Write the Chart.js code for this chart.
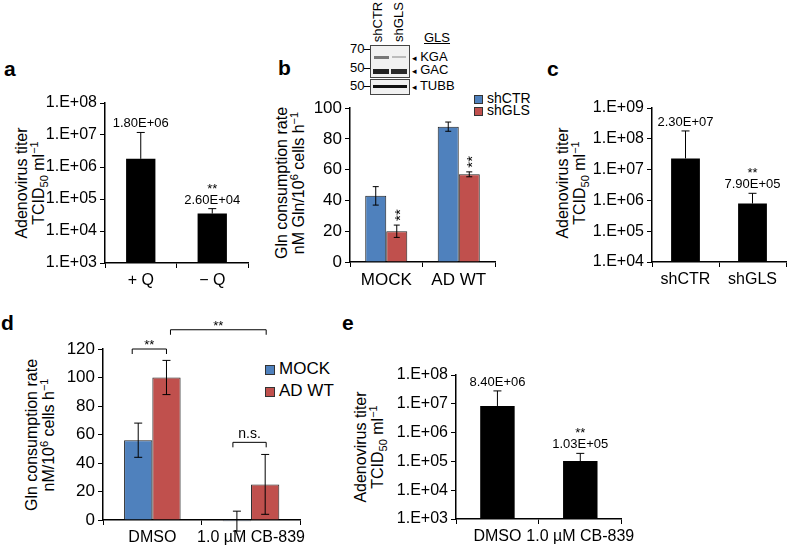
<!DOCTYPE html>
<html>
<head>
<meta charset="utf-8">
<script src="https://cdn.jsdelivr.net/npm/chart.js@4.4.1/dist/chart.umd.min.js"></script>
<style>
  body { margin: 0; background: #fff; }
  #fig { position: relative; width: 788px; height: 546px; overflow: hidden;
         font-family: 'Liberation Sans', Arial, sans-serif; color: #000; }
  canvas { position: absolute; }
  .lt { position: absolute; font-weight: bold; font-size: 21px; line-height: 21px; }
  .yt { position: absolute; transform: translate(-50%, -50%) rotate(-90deg);
        text-align: center; font-size: 16px; line-height: 17px; white-space: nowrap; }
  .yt sub, .yt sup { font-size: 11px; line-height: 0; }
  .tx { position: absolute; font-size: 13px; line-height: 14px; white-space: nowrap; }
  .ar { font-family: 'DejaVu Sans', sans-serif; font-size: 9px; }
  .box { position: absolute; border: 1px solid #444; background: #f1f1f1; }
  .band { position: absolute; filter: blur(0.7px); }
  .leg { position: absolute; white-space: nowrap; }
  .leg i { display: inline-block; border: 1px solid #333; vertical-align: middle; margin-right: 4px; }
</style>
</head>
<body>
<div id="fig">
  <div class="lt" style="left:4px;top:58px">a</div>
  <div class="lt" style="left:278px;top:57px">b</div>
  <div class="lt" style="left:547px;top:58px">c</div>
  <div class="lt" style="left:1px;top:312px">d</div>
  <div class="lt" style="left:342px;top:312px">e</div>

  <div class="yt" style="left:30px;top:183px;width:200px">Adenovirus titer<br>TCID<sub>50</sub> ml<sup>&minus;1</sup></div>
  <div class="yt" style="left:290px;top:183px;width:200px">Gln consumption rate<br>nM Gln/10<sup>6</sup> cells h<sup>&minus;1</sup></div>
  <div class="yt" style="left:571px;top:183px;width:200px">Adenovirus titer<br>TCID<sub>50</sub> ml<sup>&minus;1</sup></div>
  <div class="yt" style="left:40px;top:435px;width:200px">Gln consumption rate<br>nM/10<sup>6</sup> cells h<sup>&minus;1</sup></div>
  <div class="yt" style="left:369px;top:447px;width:200px">Adenovirus titer<br>TCID<sub>50</sub> ml<sup>&minus;1</sup></div>

  <!-- western blot inset -->
  <div class="tx" style="left:378px;top:22px;transform:translate(-50%,-50%) rotate(-90deg)">shCTR</div>
  <div class="tx" style="left:399px;top:22px;transform:translate(-50%,-50%) rotate(-90deg)">shGLS</div>
  <div class="tx" style="left:424px;top:31px;text-decoration:underline">GLS</div>
  <div class="box" style="left:370px;top:45px;width:38px;height:31px">
    <div class="band" style="left:3px;top:10px;width:15px;height:3px;background:#777"></div>
    <div class="band" style="left:21px;top:10px;width:14px;height:2px;background:#bbb"></div>
    <div class="band" style="left:2px;top:23px;width:16px;height:5px;background:#222"></div>
    <div class="band" style="left:20px;top:23px;width:16px;height:5px;background:#2a2a2a"></div>
  </div>
  <div class="box" style="left:370px;top:79px;width:38px;height:14px">
    <div class="band" style="left:2px;top:5px;width:34px;height:3px;background:#111"></div>
  </div>
  <div class="tx" style="left:350px;top:42px;width:14px;text-align:right">70</div>
  <div class="tx" style="left:350px;top:61px;width:14px;text-align:right">50</div>
  <div class="tx" style="left:350px;top:79px;width:14px;text-align:right">50</div>
  <div style="position:absolute;left:364px;top:49px;width:6px;height:1px;background:#000"></div>
  <div style="position:absolute;left:364px;top:68px;width:6px;height:1px;background:#000"></div>
  <div style="position:absolute;left:364px;top:86px;width:6px;height:1px;background:#000"></div>
  <div class="tx" style="left:412px;top:50px"><span class="ar">&#9666;</span> KGA</div>
  <div class="tx" style="left:412px;top:63px"><span class="ar">&#9666;</span> GAC</div>
  <div class="tx" style="left:412px;top:79px"><span class="ar">&#9666;</span> TUBB</div>

  <div class="leg" style="left:474px;top:92px;font-size:14px;line-height:12px">
    <div><i style="width:7px;height:7px;background:#4F81BD"></i>shCTR</div>
    <div><i style="width:7px;height:7px;background:#C0504D"></i>shGLS</div>
  </div>
  <div class="leg" style="left:265px;top:358px;font-size:17px;line-height:22px">
    <div><i style="width:8px;height:8px;background:#4F81BD"></i>MOCK</div>
    <div><i style="width:8px;height:8px;background:#C0504D"></i>AD WT</div>
  </div>

  <canvas id="ca" style="left:40px;top:80px" width="215" height="220"></canvas>
  <canvas id="cb" style="left:300px;top:95px" width="205" height="200"></canvas>
  <canvas id="cc" style="left:588px;top:80px" width="200" height="220"></canvas>
  <canvas id="cd" style="left:55px;top:300px" width="255" height="246"></canvas>
  <canvas id="ce" style="left:390px;top:340px" width="250" height="206"></canvas>
</div>

<script>
// a: adenovirus titer, +/- glutamine
const aCats = ['+ Q', '\u2212 Q'];
const aTiter = [1.8e6, 3.5e4];
const aTiterHi = [1.2e7, 5.0e4];
const aText = ['1.80E+06', '2.60E+04'];
const aStars = ['', '**'];

// b: Gln consumption, shCTR vs shGLS
const bCats = ['MOCK', 'AD WT'];
const bShCTR = [43, 88];
const bShCTRErr = [6, 3];
const bShGLS = [20, 57];
const bShGLSErr = [4, 1.6];

// c: adenovirus titer, shCTR vs shGLS
const cCats = ['shCTR', 'shGLS'];
const cTiter = [2.3e7, 7.9e5];
const cTiterHi = [1.8e8, 1.7e6];
const cText = ['2.30E+07', '7.90E+05'];
const cStars = ['', '**'];

// d: Gln consumption with CB-839
const dCats = ['DMSO', '1.0 \u00b5M CB-839'];
const dMock = [56, -0.8];
const dMockErr = [12, 7];
const dAdwt = [100, 25];
const dAdwtErr = [12, 21];

// e: adenovirus titer with CB-839
const eCats = ['DMSO', '1.0 \u00b5M CB-839'];
const eTiter = [8.4e6, 1.03e5];
const eTiterHi = [2.8e7, 1.9e5];
const eText = ['8.40E+06', '1.03E+05'];
const eStars = ['', '**'];

const BLUE = '#4F81BD', RED = '#C0504D';
Chart.defaults.font.family = "'Liberation Sans', Arial, sans-serif";
Chart.defaults.color = '#000';
Chart.defaults.animation = false;

// error bars: ds.errHi (and optional ds.errLo) in data units
const errorBars = {
  id: 'errorBars',
  afterDatasetsDraw(chart) {
    const ctx = chart.ctx, ys = chart.scales.y;
    chart.data.datasets.forEach((ds, i) => {
      if (!ds.errHi) return;
      chart.getDatasetMeta(i).data.forEach((bar, j) => {
        const hi = ys.getPixelForValue(ds.errHi[j]);
        const lo = ds.errLo ? ys.getPixelForValue(ds.errLo[j]) : bar.y;
        const cap = ds.cap || 4;
        ctx.save();
        ctx.strokeStyle = '#000';
        ctx.lineWidth = 1;
        ctx.beginPath();
        ctx.moveTo(bar.x, hi); ctx.lineTo(bar.x, lo);
        ctx.moveTo(bar.x - cap, hi); ctx.lineTo(bar.x + cap, hi);
        if (ds.errLo) { ctx.moveTo(bar.x - cap, lo); ctx.lineTo(bar.x + cap, lo); }
        ctx.stroke();
        ctx.restore();
      });
    });
  }
};

// text above error bars: ds.topText, ds.topStars, or rotated ds.sideStars
const barNotes = {
  id: 'barNotes',
  afterDatasetsDraw(chart) {
    const ctx = chart.ctx, ys = chart.scales.y;
    chart.data.datasets.forEach((ds, i) => {
      chart.getDatasetMeta(i).data.forEach((bar, j) => {
        const top = ys.getPixelForValue(ds.errHi[j]);
        ctx.save();
        ctx.fillStyle = '#000';
        ctx.textAlign = 'center';
        if (ds.topText) {
          ctx.font = "13px 'Liberation Sans', Arial";
          ctx.fillText(ds.topText[j], bar.x, top - 5);
          if (ds.topStars && ds.topStars[j]) {
            ctx.fillText(ds.topStars[j], bar.x, top - 16);
          }
        }
        if (ds.sideStars && ds.sideStars[j]) {
          ctx.font = "15px 'Liberation Sans', Arial";
          ctx.translate(bar.x, top - 10);
          ctx.rotate(-Math.PI / 2);
          ctx.fillText(ds.sideStars[j], 0, 8);
        }
        ctx.restore();
      });
    });
  }
};

// significance brackets between bars: [ds, idx] pairs
const brackets = {
  id: 'brackets',
  afterDatasetsDraw(chart, args, opts) {
    const ctx = chart.ctx, ys = chart.scales.y;
    (opts.list || []).forEach(b => {
      const x1 = chart.getDatasetMeta(b.from[0]).data[b.from[1]].x + (b.dx1 || 0);
      const x2 = chart.getDatasetMeta(b.to[0]).data[b.to[1]].x + (b.dx2 || 0);
      const y = ys.getPixelForValue(b.y);
      ctx.save();
      ctx.strokeStyle = '#000';
      ctx.lineWidth = 1;
      ctx.beginPath();
      ctx.moveTo(x1, y + 5); ctx.lineTo(x1, y); ctx.lineTo(x2, y); ctx.lineTo(x2, y + 5);
      ctx.stroke();
      ctx.fillStyle = '#000';
      ctx.textAlign = 'center';
      ctx.font = b.text === '**' ? "13px 'Liberation Sans', Arial" : "14px 'Liberation Sans', Arial";
      ctx.fillText(b.text, (x1 + x2) / 2, y - (b.text === '**' ? 0 : 4));
      ctx.restore();
    });
  }
};

function xAxis(h, size) {
  return {
    grid: { drawOnChartArea: false, tickLength: 5, color: '#000', offset: true },
    border: { color: '#000', width: 1.5 },
    ticks: { font: { size: size }, padding: 3, maxRotation: 0, minRotation: 0, autoSkip: false },
    afterFit: s => { s.height = h; }
  };
}

function logAxis(min, max, w) {
  return {
    type: 'logarithmic', min: min, max: max,
    afterBuildTicks: s => {
      s.ticks = [];
      for (let e = Math.round(Math.log10(min)); e <= Math.round(Math.log10(max)); e++) {
        s.ticks.push({ value: Math.pow(10, e) });
      }
    },
    ticks: {
      font: { size: 16 }, padding: 3,
      callback: v => '1.E+' + String(Math.round(Math.log10(v))).padStart(2, '0')
    },
    grid: { drawOnChartArea: false, tickLength: 5, color: '#000' },
    border: { color: '#000', width: 1.5 },
    afterFit: s => { s.width = w; }
  };
}

function linAxis(max, step, w, size) {
  return {
    min: 0, max: max,
    ticks: { stepSize: step, font: { size: size }, padding: 3 },
    grid: { drawOnChartArea: false, tickLength: 5, color: '#000' },
    border: { color: '#000', width: 1.5 },
    afterFit: s => { s.width = w; }
  };
}

function baseOptions(pad, x, y, extra) {
  return {
    responsive: false,
    layout: { padding: pad, autoPadding: false },
    plugins: { legend: { display: false }, tooltip: { enabled: false }, brackets: extra || {} },
    scales: { x: x, y: y }
  };
}

function lowHigh(vals, errs, sign) {
  return vals.map((v, i) => v + sign * errs[i]);
}

// panel a
new Chart(document.getElementById('ca'), {
  type: 'bar',
  data: {
    labels: aCats,
    datasets: [{
      data: aTiter, backgroundColor: '#000', barPercentage: 0.41, categoryPercentage: 1,
      errHi: aTiterHi, topText: aText, topStars: aStars
    }]
  },
  options: baseOptions({ top: 23, right: 7, left: 0, bottom: 0 }, xAxis(37, 16), logAxis(1e3, 1e8, 65)),
  plugins: [errorBars, barNotes]
});

// panel b
new Chart(document.getElementById('cb'), {
  type: 'bar',
  data: {
    labels: bCats,
    datasets: [
      { data: bShCTR, backgroundColor: BLUE, borderColor: '#222', borderWidth: 1,
        barPercentage: 1, categoryPercentage: 0.58, cap: 3,
        errHi: lowHigh(bShCTR, bShCTRErr, 1), errLo: lowHigh(bShCTR, bShCTRErr, -1) },
      { data: bShGLS, backgroundColor: RED, borderColor: '#222', borderWidth: 1,
        barPercentage: 1, categoryPercentage: 0.58, cap: 3,
        errHi: lowHigh(bShGLS, bShGLSErr, 1), errLo: lowHigh(bShGLS, bShGLSErr, -1),
        sideStars: ['**', '**'] }
    ]
  },
  options: baseOptions({ top: 9, right: 10, left: 0, bottom: 0 }, xAxis(33, 17), linAxis(100, 10, 50, 17)),
  plugins: [errorBars, barNotes]
});

// panel c
new Chart(document.getElementById('cc'), {
  type: 'bar',
  data: {
    labels: cCats,
    datasets: [{
      data: cTiter, backgroundColor: '#000', barPercentage: 0.43, categoryPercentage: 1,
      errHi: cTiterHi, topText: cText, topStars: cStars
    }]
  },
  options: baseOptions({ top: 28, right: 2, left: 0, bottom: 0 }, xAxis(38, 16), logAxis(1e4, 1e9, 64)),
  plugins: [errorBars, barNotes]
});

// panel d
new Chart(document.getElementById('cd'), {
  type: 'bar',
  data: {
    labels: dCats,
    datasets: [
      { data: dMock, backgroundColor: BLUE, borderColor: '#222', borderWidth: 1,
        barPercentage: 1, categoryPercentage: 0.573, clip: 4,
        errHi: lowHigh(dMock, dMockErr, 1), errLo: lowHigh(dMock, dMockErr, -1) },
      { data: dAdwt, backgroundColor: RED, borderColor: '#222', borderWidth: 1,
        barPercentage: 1, categoryPercentage: 0.573,
        errHi: lowHigh(dAdwt, dAdwtErr, 1), errLo: lowHigh(dAdwt, dAdwtErr, -1) }
    ]
  },
  options: baseOptions({ top: 49, right: 8, left: 0, bottom: 0 }, xAxis(26, 16), linAxis(120, 20, 48, 17),
    { list: [
      { from: [0, 0], to: [1, 0], dx1: -6, dx2: 0, y: 120, text: '**' },
      { from: [1, 0], to: [1, 1], dx1: 4, dx2: 1, y: 133.5, text: '**' },
      { from: [0, 1], to: [1, 1], dx1: -4, dx2: 1, y: 54.5, text: 'n.s.' }
    ] }),
  plugins: [errorBars, brackets]
});

// panel e
new Chart(document.getElementById('ce'), {
  type: 'bar',
  data: {
    labels: eCats,
    datasets: [{
      data: eTiter, backgroundColor: '#000', barPercentage: 0.416, categoryPercentage: 1,
      errHi: eTiterHi, topText: eText, topStars: eStars
    }]
  },
  options: baseOptions({ top: 35, right: 11, left: 0, bottom: 0 }, xAxis(27, 16), logAxis(1e3, 1e8, 66)),
  plugins: [errorBars, barNotes]
});
</script>
</body>
</html>
